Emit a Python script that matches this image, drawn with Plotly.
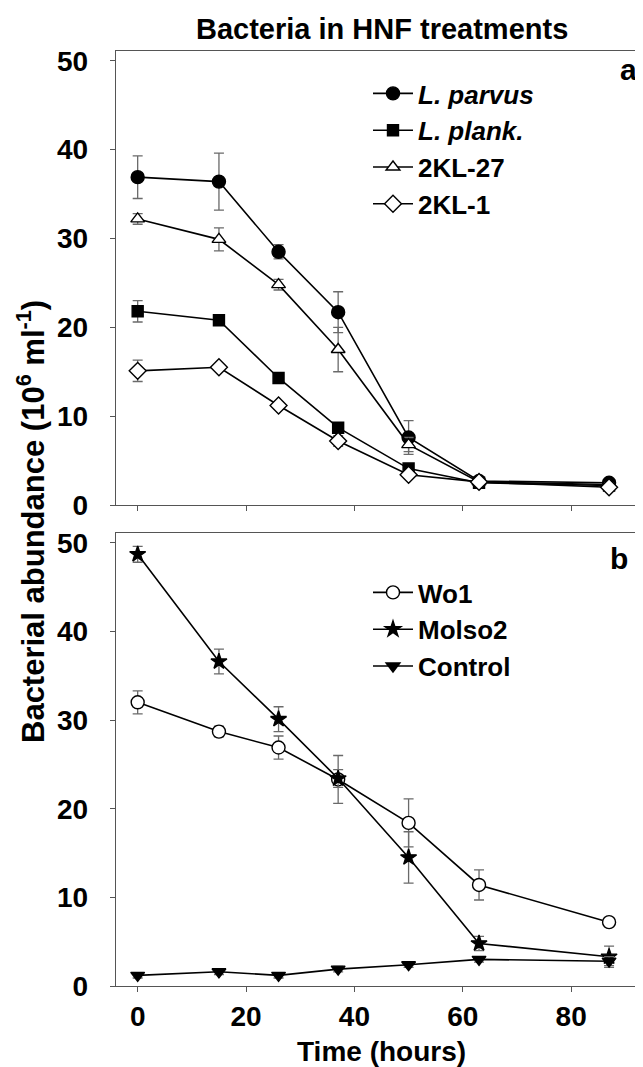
import plotly.graph_objects as go
from plotly.subplots import make_subplots

hours = [0, 15, 26, 37, 50, 63, 87]

# Panel a
parvus = [36.9, 36.4, 28.5, 21.7, 7.6, 2.7, 2.5]
parvus_err = [2.4, 3.2, 0.8, 2.3, 1.9, 0.3, 0.3]
plank = [21.8, 20.8, 14.3, 8.7, 4.1, 2.5, 2.2]
plank_err = [1.2, 0.5, 0.4, 0.5, 0.4, 0.2, 0.2]
kl27 = [32.2, 29.9, 24.8, 17.5, 6.8, 2.6, 2.3]
kl27_err = [0.6, 1.3, 0.6, 2.5, 0.8, 0.2, 0.2]
kl1 = [15.1, 15.5, 11.2, 7.2, 3.4, 2.6, 2.0]
kl1_err = [1.2, 0.3, 0.4, 0.6, 0.4, 0.2, 0.2]

# Panel b
wo1 = [32.0, 28.7, 26.9, 23.3, 18.4, 11.4, 7.2]
wo1_err = [1.3, 0.6, 1.3, 2.7, 2.7, 1.7, 0.5]
molso2 = [48.7, 36.6, 30.1, 23.4, 14.5, 4.8, 3.3]
molso2_err = [0.9, 1.4, 1.4, 1.0, 2.9, 0.8, 1.2]
control = [1.2, 1.6, 1.2, 1.9, 2.4, 3.0, 2.8]
control_err = [0.3, 0.3, 0.3, 0.3, 0.3, 0.3, 0.5]

x_ticks = [0, 20, 40, 60, 80]
y_ticks = [0, 10, 20, 30, 40, 50]

FONT = "Liberation Sans, Arial, sans-serif"

fig = make_subplots(rows=2, cols=1, vertical_spacing=0.03)

def add(name, y, err, symbol, filled, size, row, legend):
    fig.add_trace(go.Scatter(
        x=hours, y=y, name=name, mode="lines+markers",
        legendgroup=name, legend=legend,
        line=dict(color="black", width=1.6),
        marker=dict(symbol=symbol, size=size,
                    color="black" if filled else "white",
                    line=dict(color="black", width=1.4)),
        error_y=dict(type="data", array=err, visible=True,
                     color="#6a6a6a", thickness=1.3, width=5),
        cliponaxis=False,
    ), row=row, col=1)

add("<i>L. parvus</i>", parvus, parvus_err, "circle", True, 13, 1, "legend")
add("<i>L. plank.</i>", plank, plank_err, "square", True, 11, 1, "legend")
add("2KL-27", kl27, kl27_err, "triangle-up", False, 12, 1, "legend")
add("2KL-1", kl1, kl1_err, "diamond", False, 13, 1, "legend")
add("Wo1", wo1, wo1_err, "circle", False, 13, 2, "legend2")
add("Molso2", molso2, molso2_err, "star", True, 12, 2, "legend2")
add("Control", control, control_err, "triangle-down", True, 12, 2, "legend2")

top_dom = [(978 - 497) / 935, 1.0]
bot_dom = [0.0, (978 - 525) / 935]

axis_common = dict(showline=True, linecolor="#555", linewidth=1.4, mirror=True,
                   ticks="outside", ticklen=5, tickcolor="#555", tickwidth=1.2,
                   showgrid=False, zeroline=False,
                   tickfont=dict(family=FONT, size=28, color="black", weight="bold"))

fig.update_xaxes(range=[-4, 94], tickvals=x_ticks, **axis_common)
fig.update_xaxes(showticklabels=False, row=1, col=1)
fig.update_xaxes(ticklabelstandoff=0, row=2, col=1)
fig.update_yaxes(range=[0, 51.1], tickvals=y_ticks, ticklabelstandoff=16, **axis_common)
fig.update_layout(yaxis=dict(domain=top_dom), yaxis2=dict(domain=bot_dom))

legend_common = dict(bgcolor="rgba(0,0,0,0)", borderwidth=0, tracegroupgap=0,
                     font=dict(family=FONT, size=26, color="black", weight="bold"),
                     xanchor="left", yanchor="top", itemwidth=40)

fig.update_layout(
    width=643, height=1067,
    margin=dict(l=108, r=4, t=43, b=89),
    plot_bgcolor="white", paper_bgcolor="white",
    showlegend=True,
    legend=dict(x=(360 - 108) / 531, y=(978 - 62) / 935, **legend_common),
    legend2=dict(x=(360 - 108) / 531, y=(978 - 561) / 935, **legend_common),
    annotations=[
        dict(text="Bacteria in HNF treatments", x=0.5, y=(978 - 21) / 935,
             xref="paper", yref="paper", showarrow=False, xanchor="center", yanchor="middle",
             font=dict(family=FONT, size=29, color="black", weight="bold")),
        dict(text="Bacterial abundance (10<sup>6</sup> ml<sup>-1</sup>)", x=(23 - 108) / 531,
             y=(978 - 514) / 935, xref="paper", yref="paper", showarrow=False, textangle=-90,
             xanchor="center", yanchor="middle",
             font=dict(family=FONT, size=31, color="black", weight="bold")),
        dict(text="Time (hours)", x=0.5, y=(978 - 1043) / 935, xref="paper", yref="paper",
             showarrow=False, xanchor="center", yanchor="middle",
             font=dict(family=FONT, size=28, color="black", weight="bold")),
        dict(text="a", x=(620 - 108) / 531, y=(978 - 62) / 935, xref="paper", yref="paper",
             showarrow=False, xanchor="center", yanchor="middle",
             font=dict(family=FONT, size=30, color="black", weight="bold")),
        dict(text="b", x=(611 - 108) / 531, y=(978 - 550) / 935, xref="paper", yref="paper",
             showarrow=False, xanchor="center", yanchor="middle",
             font=dict(family=FONT, size=30, color="black", weight="bold")),
    ],
)

fig.write_html("out.html")
